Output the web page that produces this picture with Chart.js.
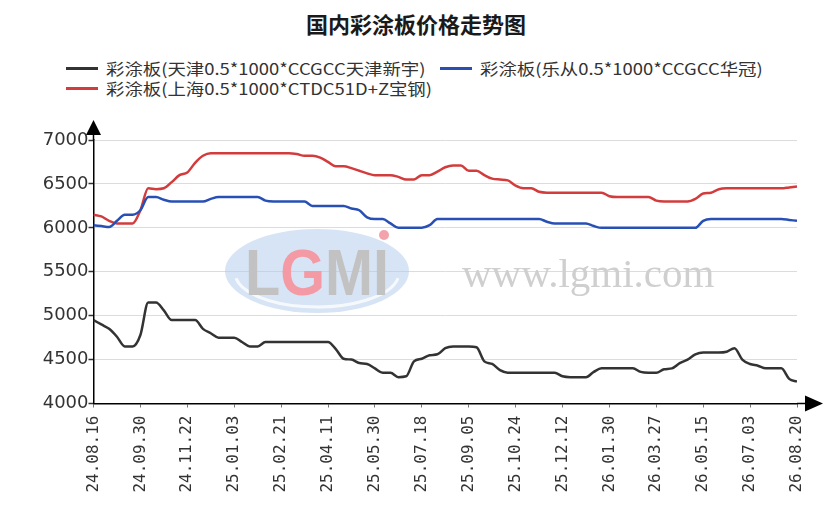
<!DOCTYPE html>
<html>
<head>
<meta charset="utf-8">
<script src="https://cdn.jsdelivr.net/npm/chart.js@4.4.1/dist/chart.umd.min.js"></script>
<style>
  body { margin: 0; background: #fff; }
  #wrap { position: relative; width: 830px; height: 523px; overflow: hidden; }
  #title { position: absolute; left: 0; top: 7px; width: 832px; text-align: center;
    font: bold 22px "Noto Sans CJK SC", sans-serif; color: #1a1a1a; }
  .item { position: absolute; height: 20px; display: flex; align-items: center; }
  .item .sw { width: 32px; height: 3px; margin-right: 8px; }
  .item .tx { font: 16px "Noto Sans CJK SC", sans-serif; color: #333; white-space: nowrap;
    transform: scaleX(1.15); transform-origin: left center; }
  canvas { position: absolute; left: 0; top: 0; }
</style>
</head>
<body>
<div id="wrap">
  <div id="title">国内彩涂板价格走势图</div>
  <div id="legend"></div>
  <canvas id="c" width="830" height="523"></canvas>
</div>
<script>
// tick labels, one every 6 points
const tickLabels = ['24.08.16','24.09.30','24.11.22','25.01.03','25.02.21','25.04.11','25.05.30','25.07.18',
  '25.09.05','25.10.24','25.12.12','26.01.30','26.03.27','26.05.15','26.07.03','26.08.20'];
const pointsPerTick = 6;

const seriesNames = ['彩涂板(天津0.5*1000*CCGCC天津新宇)', '彩涂板(乐从0.5*1000*CCGCC华冠)', '彩涂板(上海0.5*1000*CTDC51D+Z宝钢)'];
const seriesColors = ['#333333', '#2850b4', '#d23c3c'];

const tianjin = [4950,4900,4850,4760,4650,4650,4780,5150,5150,5060,4950,4950,4950,4950,4850,4800,
  4750,4750,4750,4700,4650,4650,4700,4700,4700,4700,4700,4700,4700,4700,4700,4620,4510,4500,4460,4450,
  4400,4350,4350,4300,4310,4480,4510,4550,4560,4630,4650,4650,4650,4640,4480,4450,4380,4350,4350,4350,
  4350,4350,4350,4350,4310,4300,4300,4300,4360,4400,4400,4400,4400,4400,4360,4350,4350,4390,4400,4460,
  4500,4560,4580,4580,4580,4590,4630,4500,4450,4430,4400,4400,4400,4280,4250];
const lecong = [6030,6020,6010,6080,6150,6150,6200,6350,6350,6320,6300,6300,6300,6300,6300,6330,
  6350,6350,6350,6350,6350,6350,6310,6300,6300,6300,6300,6300,6250,6250,6250,6250,6250,6220,6200,6120,
  6100,6100,6050,6000,6000,6000,6000,6030,6100,6100,6100,6100,6100,6100,6100,6100,6100,6100,6100,6100,
  6100,6100,6070,6050,6050,6050,6050,6050,6020,6000,6000,6000,6000,6000,6000,6000,6000,6000,6000,6000,
  6000,6000,6080,6100,6100,6100,6100,6100,6100,6100,6100,6100,6100,6090,6080];
const shanghai = [6150,6130,6080,6050,6050,6050,6200,6450,6440,6450,6520,6600,6630,6740,6820,6850,
  6850,6850,6850,6850,6850,6850,6850,6850,6850,6850,6840,6820,6820,6800,6750,6700,6700,6680,6650,6620,
  6600,6600,6600,6580,6550,6550,6600,6600,6640,6690,6710,6710,6650,6650,6600,6560,6550,6540,6480,6450,
  6450,6410,6400,6400,6400,6400,6400,6400,6400,6400,6360,6350,6350,6350,6350,6350,6310,6300,6300,6300,
  6300,6330,6390,6400,6440,6450,6450,6450,6450,6450,6450,6450,6450,6460,6470];

const yTicks = [4000, 4500, 5000, 5500, 6000, 6500, 7000];

// html legend
const legendPos = [[66, 58], [440, 58], [66, 78]];
const legendEl = document.getElementById('legend');
seriesNames.forEach((name, i) => {
  const it = document.createElement('div');
  it.className = 'item';
  it.style.left = legendPos[i][0] + 'px';
  it.style.top = legendPos[i][1] + 'px';
  it.innerHTML = '<span class="sw" style="background:' + seriesColors[i] + '"></span><span class="tx"></span>';
  it.querySelector('.tx').textContent = name;
  legendEl.appendChild(it);
});

const toPoints = arr => arr.map((v, i) => ({ x: i, y: v }));

// watermark + axis arrows
const decor = {
  id: 'decor',
  beforeDatasetsDraw(chart) {
    const ctx = chart.ctx;
    ctx.save();
    ctx.fillStyle = 'rgba(175,202,235,0.5)';
    ctx.beginPath();
    ctx.ellipse(317, 271, 92, 42, 0, 0, Math.PI * 2);
    ctx.fill();
    ctx.strokeStyle = 'rgba(255,255,255,0.8)';
    ctx.lineWidth = 3;
    ctx.beginPath();
    ctx.ellipse(317, 273, 82, 34, 0, Math.PI * 0.05, Math.PI * 0.95);
    ctx.stroke();
    ctx.translate(245, 295);
    ctx.scale(0.8, 0.9);
    ctx.font = 'bold 72px "Liberation Sans", sans-serif';
    ctx.textBaseline = 'alphabetic';
    let x = 0;
    [['L', '#c2c2c2'], ['G', '#f39aa5'], ['M', '#c2c2c2'], ['I', '#c2c2c2']].forEach(([ch, col]) => {
      ctx.fillStyle = col;
      ctx.fillText(ch, x, 0);
      x += ctx.measureText(ch).width;
    });
    ctx.restore();
    ctx.save();
    ctx.fillStyle = 'rgba(240,140,150,0.8)';
    ctx.beginPath();
    ctx.arc(384, 235, 5, 0, Math.PI * 2);
    ctx.fill();
    ctx.fillStyle = '#cfcfcf';
    ctx.font = '41px "Liberation Serif", serif';
    ctx.fillText('www.lgmi.com', 462, 287);
    ctx.restore();
  },
  afterDraw(chart) {
    const { left, top, right, bottom } = chart.chartArea;
    const ctx = chart.ctx;
    ctx.save();
    ctx.strokeStyle = '#000';
    ctx.fillStyle = '#000';
    ctx.lineWidth = 1.5;
    ctx.beginPath();
    ctx.moveTo(left, top);
    ctx.lineTo(left, top - 6);
    ctx.moveTo(right, bottom);
    ctx.lineTo(right + 9, bottom);
    ctx.stroke();
    ctx.beginPath();
    ctx.moveTo(left, top - 20);
    ctx.lineTo(left - 7.5, top - 5);
    ctx.lineTo(left + 7.5, top - 5);
    ctx.closePath();
    ctx.fill();
    ctx.beginPath();
    ctx.moveTo(right + 26, bottom);
    ctx.lineTo(right + 8, bottom - 8);
    ctx.lineTo(right + 8, bottom + 8);
    ctx.closePath();
    ctx.fill();
    ctx.restore();
  }
};

new Chart(document.getElementById('c'), {
  type: 'line',
  data: {
    datasets: [
      { label: seriesNames[0], data: toPoints(tianjin), borderColor: seriesColors[0] },
      { label: seriesNames[1], data: toPoints(lecong), borderColor: seriesColors[1] },
      { label: seriesNames[2], data: toPoints(shanghai), borderColor: seriesColors[2] }
    ].map(d => Object.assign(d, { borderWidth: 2.5, pointRadius: 0, fill: false, cubicInterpolationMode: 'monotone' }))
  },
  options: {
    responsive: false,
    animation: false,
    layout: { padding: { top: 140, right: 33, bottom: 0, left: 0 } },
    plugins: { legend: { display: false }, title: { display: false }, tooltip: { enabled: false } },
    scales: {
      x: {
        type: 'linear',
        min: 0,
        max: (tickLabels.length - 1) * pointsPerTick,
        afterBuildTicks: s => { s.ticks = tickLabels.map((t, i) => ({ value: i * pointsPerTick })); },
        ticks: {
          autoSkip: false, minRotation: 90, maxRotation: 90, padding: 8, color: '#333',
          font: { family: 'DejaVu Sans Mono', size: 16 },
          callback: v => tickLabels[Math.round(v / pointsPerTick)]
        },
        grid: { drawOnChartArea: false, drawTicks: true, tickLength: 4, tickColor: '#777' },
        border: { color: '#000', width: 1.5 },
        afterFit: s => { s.height = 119.5; }
      },
      y: {
        min: 4000,
        max: 7000,
        afterBuildTicks: s => { s.ticks = yTicks.map(v => ({ value: v })); },
        ticks: { padding: 0, color: '#333', font: { family: 'DejaVu Sans', size: 18 }, callback: v => String(v) },
        grid: { color: '#dcdcdc', lineWidth: 1, tickColor: '#333', tickLength: 5, tickWidth: 1.5 },
        border: { color: '#000', width: 1.5 },
        afterFit: s => { s.width = 93.5; }
      }
    }
  },
  plugins: [decor]
});
</script>
</body>
</html>
